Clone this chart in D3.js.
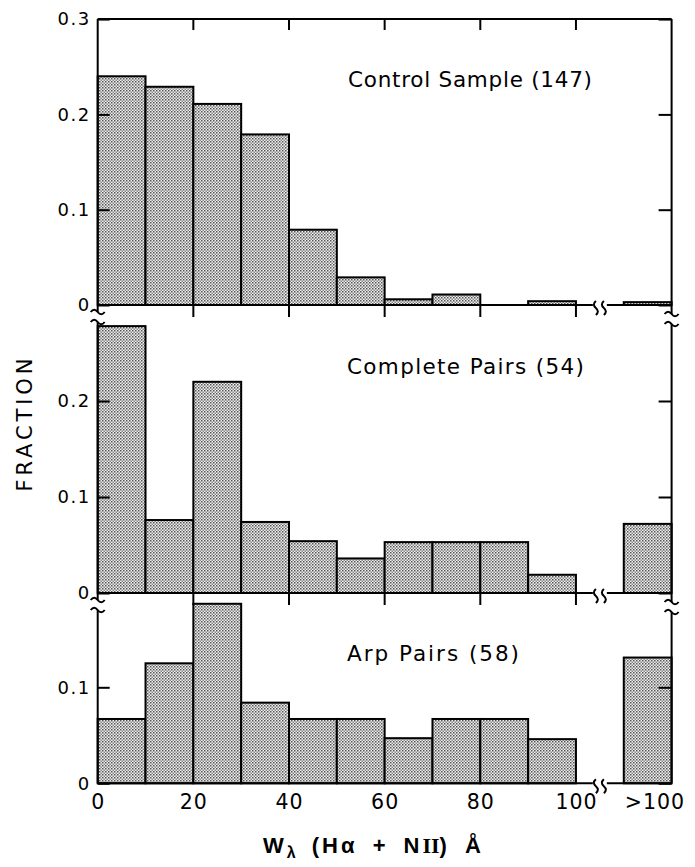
<!DOCTYPE html>
<html><head><meta charset="utf-8">
<script src="https://cdn.jsdelivr.net/npm/d3@7"></script>
<style>body{margin:0;background:#fff} svg{display:block}</style>
</head><body>
<svg id="c" width="695" height="867"></svg>
<script>
// ---- data ----
const binLow = [0, 10, 20, 30, 40, 50, 60, 70, 80, 90, 100]; // last bin = ">100"
const xTickValues = [0, 20, 40, 60, 80, 100];
const xTickLabels = ["0", "20", "40", "60", "80", "100"];
const overflowLabel = ">100";
const controlSample = [0.240, 0.229, 0.211, 0.179, 0.079, 0.029, 0.006, 0.011, 0, 0.004, 0.003];
const completePairs = [0.278, 0.076, 0.220, 0.074, 0.054, 0.036, 0.053, 0.053, 0.053, 0.019, 0.072];
const arpPairs = [0.067, 0.125, 0.187, 0.084, 0.067, 0.067, 0.047, 0.067, 0.067, 0.046, 0.131];
const panelTitles = ["Control Sample (147)", "Complete Pairs (54)", "Arp Pairs (58)"];
const yTicksTop = [0, 0.1, 0.2, 0.3];
const yTicksMid = [0, 0.1, 0.2];
const yTicksBot = [0, 0.1];
const yTitle = "FRACTION";

// ---- layout ----
const svg = d3.select("#c");
const x = d3.scaleLinear().domain([0, 120]).range([97.7, 671.6]);
const binStart = v => v >= 100 ? v + 10 : v;   // ">100" bin drawn after the axis break
const xb = x(105);
const fmt = d => d === 0 ? "0" : d3.format(".1f")(d);
const FONT = "DejaVu Sans, Liberation Sans, Arial, sans-serif";

const defs = svg.append("defs");
const pat = defs.append("pattern").attr("id", "stip").attr("patternUnits", "userSpaceOnUse")
  .attr("width", 3).attr("height", 3);
pat.append("rect").attr("width", 3).attr("height", 3).attr("fill", "#eeeeee");
pat.append("rect").attr("width", 1.5).attr("height", 1.5).attr("fill", "#555");
pat.append("rect").attr("x", 1.5).attr("y", 1.5).attr("width", 1.5).attr("height", 1.5).attr("fill", "#888");

const panels = [
  { values: controlSample, title: panelTitles[0], base: 305, unit: 95.3, topL: 19, topR: 19, ticks: yTicksTop, tx: 348, ty: 87, tl: 244 },
  { values: completePairs, title: panelTitles[1], base: 593, unit: 96, topL: 322, topR: 324, ticks: yTicksMid, tx: 347, ty: 374, tl: 237 },
  { values: arpPairs, title: panelTitles[2], base: 783.3, unit: 96, topL: 610, topR: 612, ticks: yTicksBot, tx: 347, ty: 660.5, tl: 172 }
];

const line = (g, x1, y1, x2, y2, w = 2) => g.append("line")
  .attr("x1", x1).attr("y1", y1).attr("x2", x2).attr("y2", y2)
  .attr("stroke", "#000").attr("stroke-width", w);
const hWave = (g, cx, cy) => g.append("path")
  .attr("d", `M${cx - 7},${cy} q3.5,-4.5 7,0 t7,0`).attr("fill", "none")
  .attr("stroke", "#000").attr("stroke-width", 2);
const vWave = (g, cx, cy) => g.append("path")
  .attr("d", `M${cx},${cy - 6} q-4,3.5 0,7 t0,7`).attr("fill", "none")
  .attr("stroke", "#000").attr("stroke-width", 2);

panels.forEach((p, i) => {
  const g = svg.append("g");
  const y = d3.scaleLinear().domain([0, 0.1]).range([p.base, p.base - p.unit]);

  // bars
  g.selectAll("rect.bar")
    .data(p.values.map((v, j) => ({ v, lo: binStart(binLow[j]) })).filter(d => d.v > 0))
    .join("rect").attr("class", "bar")
    .attr("x", d => x(d.lo)).attr("width", d => x(d.lo + 10) - x(d.lo))
    .attr("y", d => y(d.v)).attr("height", d => p.base - y(d.v))
    .attr("fill", "url(#stip)").attr("stroke", "#000").attr("stroke-width", 2);

  // left axis with inward ticks
  const la = g.append("g").attr("transform", `translate(${x(0)},0)`)
    .call(d3.axisLeft(y).tickValues(p.ticks).tickSizeInner(-12).tickSizeOuter(0).tickPadding(7).tickFormat(fmt));
  la.select(".domain").remove();
  la.selectAll("line").attr("stroke-width", 2);
  la.selectAll("text").attr("font-family", FONT).attr("font-size", 18).attr("letter-spacing", 1.5).attr("fill", "#000");

  // right axis with inward ticks
  const ra = g.append("g").attr("transform", `translate(${x(120)},0)`)
    .call(d3.axisRight(y).tickValues(p.ticks).tickSizeInner(-13).tickSizeOuter(0).tickFormat(""));
  ra.select(".domain").remove();
  ra.selectAll("line").attr("stroke-width", 2);

  // vertical axis lines (extend past baseline into the break)
  const extL = i < 2 ? 7 : 0, extR = i < 2 ? 9 : 0;
  line(g, x(0), p.topL, x(0), p.base + extL);
  line(g, x(120), p.topR, x(120), p.base + extR);
  if (i < 2) {
    hWave(g, x(0), p.base + 7); hWave(g, x(0), p.base + 17);
    hWave(g, x(120), p.base + 9); hWave(g, x(120), p.base + 19);
  }

  // baseline with break
  line(g, x(0), p.base, xb - 7, p.base);
  line(g, xb + 7, p.base, x(120), p.base);
  vWave(g, xb - 4, p.base + 2); vWave(g, xb + 4, p.base + 2);

  if (i === 0) {
    line(g, x(0), p.topL, x(120), p.topL);
    xTickValues.filter(t => t > 0).forEach(t => line(g, x(t), p.topL, x(t), p.topL + 11));
  }
  if (i < 2) {
    xTickValues.filter(t => t > 0).forEach(t => line(g, x(t), p.base, x(t), p.base + 12));
  } else {
    const xa = g.append("g").attr("transform", `translate(0,${p.base})`)
      .call(d3.axisBottom(x).tickValues(xTickValues).tickSize(0).tickPadding(11)
        .tickFormat((d, k) => xTickLabels[k]));
    xa.select(".domain").remove();
    xa.selectAll("text").attr("font-family", FONT).attr("font-size", 20.5).attr("letter-spacing", 1).attr("fill", "#000");
    g.append("text").attr("x", x(116.5)).attr("y", p.base + 26).attr("text-anchor", "middle")
      .attr("font-family", FONT).attr("font-size", 20.5).attr("letter-spacing", 1).text(overflowLabel);
  }

  // panel title
  g.append("text").attr("x", p.tx).attr("y", p.ty)
    .attr("font-family", FONT).attr("font-size", 21.5)
    .attr("textLength", p.tl).attr("lengthAdjust", "spacing").text(p.title);
});

// y-axis title
svg.append("text").attr("transform", "translate(32,425) rotate(-90)")
  .attr("text-anchor", "middle").attr("font-family", FONT).attr("font-size", 21)
  .attr("textLength", 133).attr("lengthAdjust", "spacing").text(yTitle);

// x-axis title: W_λ (Hα + NII) Å
const xt = svg.append("text").attr("x", 263).attr("y", 853)
  .attr("font-family", "Liberation Sans, Arial, sans-serif").attr("font-weight", "bold")
  .attr("font-size", 22).attr("letter-spacing", 3).attr("word-spacing", 6);
xt.append("tspan").text("W");
xt.append("tspan").attr("font-size", 16).attr("dy", 5).attr("letter-spacing", 1).text("λ");
xt.append("tspan").attr("dy", -5).text(" (Hα + N");
xt.append("tspan").attr("font-family", "Liberation Serif, serif").attr("letter-spacing", 0).text("II");
xt.append("tspan").text(") Å");
</script>
</body></html>
